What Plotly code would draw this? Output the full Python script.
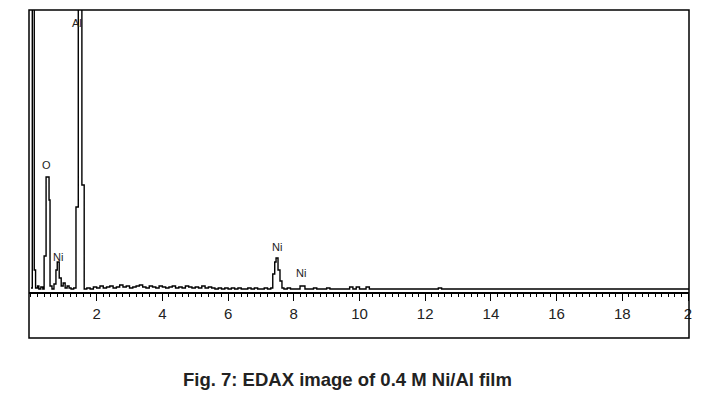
import plotly.graph_objects as go

# EDAX spectrum (energy in keV, counts in arbitrary units)
energy = [0.00, 0.04, 0.10, 0.14, 0.20, 0.24, 0.30, 0.36, 0.40, 0.46, 0.55, 0.58,
          0.64, 0.70, 0.76, 0.80, 0.86, 0.92, 0.98, 1.04, 1.10, 1.16, 1.22, 1.30,
          1.37, 1.44, 1.55, 1.62, 1.70, 1.80, 1.90, 2.00, 2.10, 2.20, 2.30, 2.40,
          2.50, 2.60, 2.70, 2.80, 2.90, 3.00, 3.10, 3.20, 3.30, 3.40, 3.50, 3.60,
          3.70, 3.80, 3.90, 4.00, 4.10, 4.20, 4.30, 4.40, 4.50, 4.60, 4.70, 4.80,
          4.90, 5.00, 5.10, 5.20, 5.30, 5.40, 5.50, 5.60, 5.70, 5.80, 5.90, 6.00,
          6.10, 6.20, 6.30, 6.40, 6.50, 6.60, 6.70, 6.80, 6.90, 7.00, 7.10, 7.20,
          7.30, 7.36, 7.42, 7.46, 7.52, 7.58, 7.64, 7.70, 7.80, 7.90, 8.00, 8.10,
          8.19, 8.34, 8.50, 8.60, 8.70, 8.90, 9.00, 9.10, 9.40, 9.70, 9.80, 9.90,
          10.00, 10.20, 10.30, 10.50, 11.00, 12.40, 12.50, 14.00, 16.00, 18.00, 20.03]
counts = [4, 420, 22, 4, 6, 3, 5, 3, 36, 115, 92, 6,
          3, 8, 22, 30, 14, 6, 9, 4, 6, 4, 3, 4,
          85, 700, 107, 3, 4, 3, 5, 4, 6, 4, 5, 6,
          4, 5, 7, 5, 6, 4, 5, 6, 7, 5, 4, 6,
          5, 4, 6, 5, 4, 5, 6, 4, 5, 4, 6, 5,
          4, 5, 4, 6, 4, 5, 4, 3, 4, 3, 4, 3,
          4, 3, 4, 3, 3, 4, 3, 4, 3, 3, 4, 3,
          4, 18, 30, 34, 22, 11, 4, 3, 4, 3, 3, 3,
          6, 3, 3, 4, 3, 3, 4, 3, 3, 5, 3, 5,
          3, 5, 3, 3, 3, 4, 3, 3, 3, 3, 3]

# Peak labels: text, energy, count position
peak_labels = ["Al", "O", "Ni", "Ni", "Ni"]
peak_x = [1.40, 0.47, 0.82, 7.50, 8.22]
peak_y = [269, 127, 35, 45, 19]

tick_vals = [2, 4, 6, 8, 10, 12, 14, 16, 18, 20]
tick_text = ["2", "4", "6", "8", "10", "12", "14", "16", "18", "2"]

caption = "Fig. 7: EDAX image of 0.4 M Ni/Al film"

fig = go.Figure()
fig.add_trace(go.Scatter(x=energy, y=counts, mode="lines",
                         line=dict(color="black", width=1.4, shape="hv"),
                         hoverinfo="skip"))

for t, x, y in zip(peak_labels, peak_x, peak_y):
    fig.add_annotation(x=x, y=y, text=t, showarrow=False,
                       font=dict(family="Liberation Sans, Arial", size=11, color="#222"),
                       xanchor="center", yanchor="middle")

fig.add_annotation(xref="paper", yref="paper", x=0.483, y=-0.312, text="<b>" + caption + "</b>",
                   showarrow=False, xanchor="center", yanchor="middle",
                   font=dict(family="Liberation Sans, Arial", size=18.5, color="#222"))

# outer frame enclosing the plot and tick labels
fig.add_shape(type="rect", xref="paper", yref="paper", x0=0, x1=1, y0=-0.163, y1=1,
              line=dict(color="black", width=1.5))

fig.update_layout(
    width=714, height=399,
    margin=dict(l=29, r=25, t=10, b=107),
    paper_bgcolor="white", plot_bgcolor="white",
    showlegend=False,
    xaxis=dict(range=[-0.06, 20.03], tickvals=tick_vals, ticktext=tick_text,
               ticks="outside", ticklen=7, tickwidth=1, tickcolor="black",
               showline=True, linecolor="black", linewidth=1.5,
               showgrid=False, zeroline=False,
               tickfont=dict(family="Liberation Sans, Arial", size=15, color="#222"),
               minor=dict(dtick=0.2, tick0=0, ticks="outside", ticklen=3,
                          tickwidth=1, tickcolor="black", showgrid=False)),
    yaxis=dict(range=[0, 282], showticklabels=False, ticks="", showgrid=False,
               zeroline=False, showline=False),
)

fig.write_html("out.html")
